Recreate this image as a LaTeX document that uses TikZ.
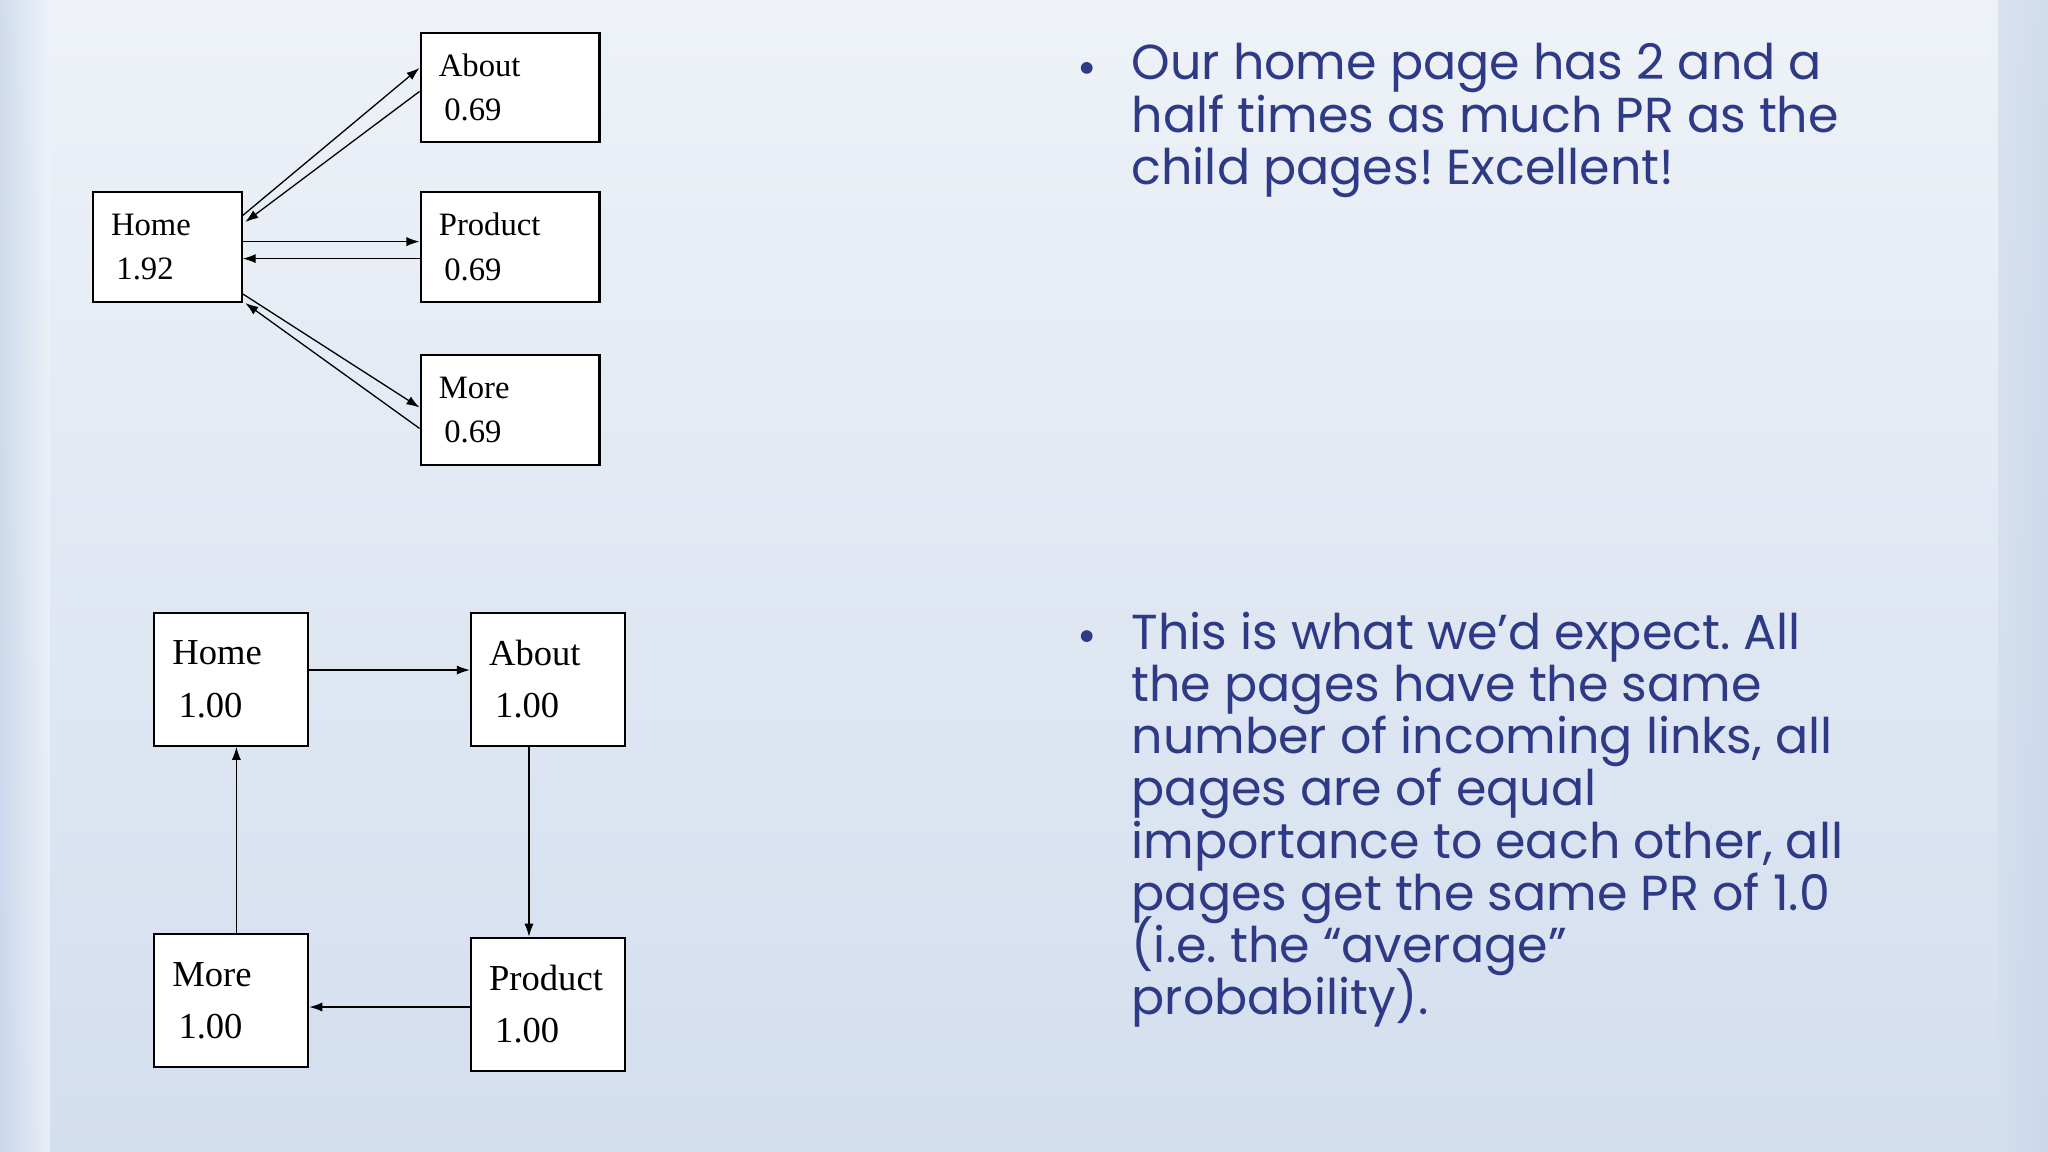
\documentclass[tikz,border=0pt]{standalone}
\usepackage{fontspec}
\setmainfont{Liberation Serif}
\newfontfamily\bulletfont{Poppins}
\usetikzlibrary{arrows.meta}
\frenchspacing
\setlength{\lineskiplimit}{-30pt}
\definecolor{navy}{HTML}{2E3A86}
\definecolor{bgtop}{HTML}{EEF2F8}
\definecolor{bgbot}{HTML}{D3DEEE}
\definecolor{edge}{HTML}{C9D6EA}
\tikzset{
  box/.style={draw=black, line width=0.8pt, fill=white, align=left, inner ysep=0pt, inner xsep=7pt},
  tbox/.style={box, text width=54.5pt, minimum height=42pt, font=\fontsize{12.5}{17}\selectfont},
  hbox/.style={box, text width=43pt, minimum height=42pt, font=\fontsize{12.5}{17}\selectfont},
  bbox/.style={box, text width=45pt, minimum height=51pt, font=\fontsize{14}{20}\selectfont},
  arr/.style={-{Latex[length=5pt,width=3.5pt]}, line width=0.5pt},
  btext/.style={anchor=north west, align=left, text=navy, inner sep=0pt, font=\bulletfont\fontsize{18.8}{20}\selectfont},
  bul/.style={circle, fill=navy, inner sep=0pt, minimum size=4.5pt}
}
\begin{document}
\begin{tikzpicture}[x=0.5pt,y=-0.5pt]
\useasboundingbox (0,0) rectangle (1568,882);
\shade[top color=bgtop, bottom color=bgbot] (0,0) rectangle (1568,882);
\shade[left color=edge, right color=bgtop, opacity=0.8] (0,0) rectangle (38,882);
\shade[left color=bgbot, right color=edge, opacity=0.8] (1530,0) rectangle (1568,882);

% top graph
\node[hbox] (home) at (128,189) {Home\\ \,1.92};
\node[tbox] (about) at (390.5,67) {About\\ \,0.69};
\node[tbox] (product) at (390.5,189) {Product\\ \,0.69};
\node[tbox] (more) at (390.5,314) {More\\ \,0.69};
\draw[arr] ([yshift=12pt]home.east) -- ([yshift=7.5pt]about.west);
\draw[arr] ([yshift=-1.5pt]about.west) -- ([yshift=9.5pt,xshift=1pt]home.east);
\draw[arr] ([yshift=2pt]home.east) -- ([yshift=2pt]product.west);
\draw[arr] ([yshift=-4.5pt]product.west) -- ([yshift=-4.5pt]home.east);
\draw[arr] ([yshift=-18pt]home.east) -- ([yshift=1pt]more.west);
\draw[arr] ([yshift=-7pt]more.west) -- ([yshift=-21.5pt,xshift=1pt]home.east);

% bottom graph
\node[bbox] (h2) at (177,520) {Home\\ \,1.00};
\node[bbox] (a2) at (419.5,520) {About\\ \,1.00};
\node[bbox] (p2) at (419.5,769) {Product\\ \,1.00};
\node[bbox] (m2) at (177,766) {More\\ \,1.00};
\draw[arr] ([yshift=3.5pt]h2.east) -- ([yshift=3.5pt]a2.west);
\draw[arr] ([xshift=-7.25pt]a2.south) -- ([xshift=-7.25pt]p2.north);
\draw[arr] ([yshift=-1pt]p2.west) -- ([yshift=-2.5pt]m2.east);
\draw[arr] ([xshift=2pt]m2.north) -- ([xshift=2pt]h2.south);

% text
\node[bul] (b1) at (832,52) {};
\node[btext] (t1) at (866,33) {Our home page has 2 and a\\half times as much PR as the\\child pages! Excellent!};
\node[bul] (b2) at (832,487) {};
\node[btext] (t2) at (866,468) {This is what we’d expect. All\\the pages have the same\\number of incoming links, all\\pages are of equal\\importance to each other, all\\pages get the same PR of 1.0\\(i.e. the “average”\\probability).};
\end{tikzpicture}
\end{document}
